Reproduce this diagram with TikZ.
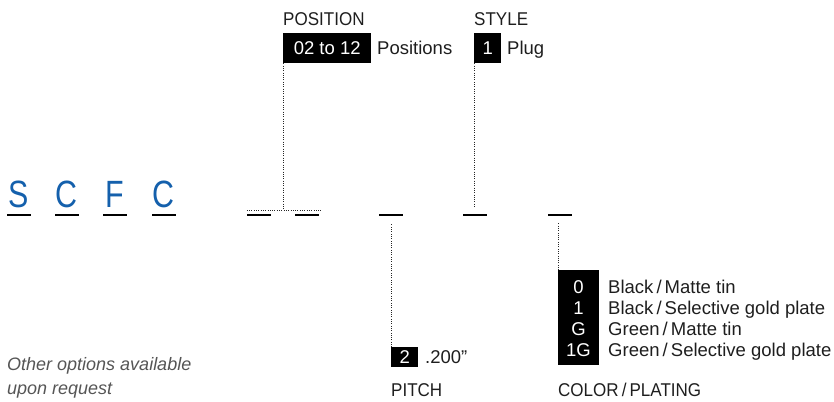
\documentclass[tikz,border=0pt]{standalone}
\usepackage{fontspec}
\setmainfont{Liberation Sans}
\newfontfamily\bigfont[FakeStretch=0.8]{Liberation Sans}
\newfontfamily\capfont[FakeStretch=0.92]{Liberation Sans}
\usetikzlibrary{calc}
\definecolor{sblue}{RGB}{20,96,172}
\definecolor{igray}{RGB}{85,85,85}
\definecolor{ink}{RGB}{30,30,30}
\begin{document}
\begin{tikzpicture}[x=1pt,y=-1pt,
  txt/.style={font=\fontsize{18.5}{21}\selectfont, text=ink, inner sep=0pt, anchor=base west},
  captxt/.style={font=\capfont\fontsize{18.5}{21}\selectfont, text=ink, inner sep=0pt, anchor=base west},
  note/.style={font=\itshape\fontsize{18}{21}\selectfont, text=igray, inner sep=0pt, anchor=base west},
  big/.style={font=\bigfont\fontsize{38}{40}\selectfont, text=sblue, inner sep=0pt, anchor=base},
  bar/.style={fill=black, minimum width=24pt, minimum height=2.5pt, inner sep=0pt},
  blk/.style={fill=black, text=white, inner sep=0pt, anchor=north west, font=\fontsize{18.5}{21}\selectfont},
  wnum/.style={text=white, inner sep=0pt, anchor=base, font=\fontsize{18.5}{21}\selectfont},
  dots/.style={line width=0.7pt, dash pattern=on 0.7pt off 1.6pt, black!85}]
\useasboundingbox (0,0) rectangle (834,401);
% part number letters
\node[big] (lS) at (19,207) {S};
\node[big] (lC1) at (66.5,207) {C};
\node[big] (lF) at (115,207) {F};
\node[big] (lC2) at (163.5,207) {C};
% underlines
\node[bar] (u1) at (19,215) {};
\node[bar] (u2) at (66.5,215) {};
\node[bar] (u3) at (115,215) {};
\node[bar] (u4) at (163.5,215) {};
\node[bar] (u5) at (259,215) {};
\node[bar] (u6) at (307,215) {};
\node[bar] (u7) at (390.5,215) {};
\node[bar] (u8) at (475,215) {};
\node[bar] (u9) at (559.5,215) {};
% POSITION
\node[captxt] (poslab) at (283,26) {POSITION};
\node[blk, minimum width=88pt, minimum height=30pt] (posbox) at (283,33) {02 to 12};
\node[txt] (postxt) at (377,55) {Positions};
% STYLE
\node[captxt] (stylab) at (474,26) {STYLE};
\node[blk, minimum width=27pt, minimum height=30pt] (stybox) at (474,33) {1};
\node[txt] (stytxt) at (507,55) {Plug};
% PITCH
\node[blk, minimum width=27pt, minimum height=20pt] (pitbox) at (391,347) {2};
\node[txt] (pittxt) at (425,363) {.200”};
\node[captxt] (pitlab) at (391,396) {PITCH};
% COLOR/PLATING
\node[blk, minimum width=41pt, minimum height=95pt] (colbox) at (558,270) {};
\node[wnum] (c0) at (578.5,293) {0};
\node[wnum] (c1) at (578.5,314) {1};
\node[wnum] (c2) at (578.5,335) {G};
\node[wnum] (c3) at (578.5,356) {1G};
\node[txt] (t0) at (608,293) {Black\,/\,Matte tin};
\node[txt] (t1) at (608,314) {Black\,/\,Selective gold plate};
\node[txt] (t2) at (608,335) {Green\,/\,Matte tin};
\node[txt] (t3) at (608,356) {Green\,/\,Selective gold plate};
\node[captxt] (collab) at (558,396) {COLOR\,/\,PLATING};
% note
\node[note] (n1) at (7,370) {Other options available};
\node[note] (n2) at (7,394) {upon request};
% dotted connectors
\coordinate (pl) at ($(u5.north west)+(0,-3)$);
\coordinate (pr) at ($(u6.north east)+(2,-3)$);
\draw[dots] (pl) -- (pr);
\draw[dots] (posbox.south west) -- (posbox.south west |- pl);
\coordinate (sy) at ($(u8.north)+(0,-6)$);
\draw[dots] (stybox.south west) -- (stybox.south west |- sy);
\coordinate (py) at ($(u7.south)+(0,7)$);
\draw[dots] (pitbox.north west) -- (pitbox.north west |- py);
\coordinate (cy) at ($(u9.south)+(0,6)$);
\draw[dots] (colbox.north west) -- (colbox.north west |- cy);
\end{tikzpicture}
\end{document}
